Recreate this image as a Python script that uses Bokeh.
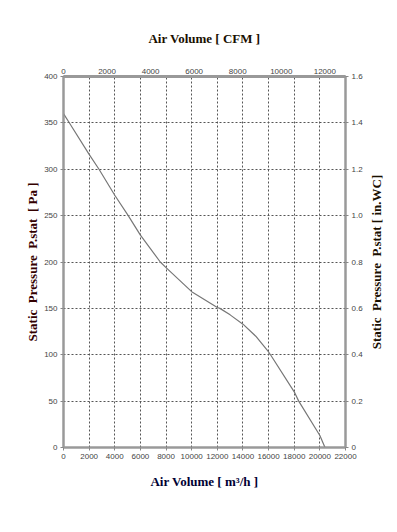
import math
from bokeh.plotting import figure
from bokeh.layouts import row
from bokeh.models import Range1d, LinearAxis, FixedTicker
from bokeh.embed import file_html
from bokeh.resources import INLINE

# Curve: air volume (m3/h) vs static pressure (Pa)
flow_m3h = [0, 500, 2000, 2770, 4000, 5050, 6000, 7550, 8000, 10000, 12000,
            12200, 13000, 14000, 15000, 16000, 16150, 18000, 18350, 20000, 20400]
pressure_pa = [360, 349, 316, 300, 272, 250, 229, 200, 194, 168, 151,
               150, 143, 133, 120, 103, 100, 60, 50, 13, 0]

bottom_ticks = [0, 2000, 4000, 6000, 8000, 10000, 12000, 14000, 16000, 18000, 20000, 22000]
left_ticks = [0, 50, 100, 150, 200, 250, 300, 350, 400]
top_ticks = [0, 2000, 4000, 6000, 8000, 10000, 12000]
right_ticks = [0, 0.2, 0.4, 0.6, 0.8, 1.0, 1.2, 1.4, 1.6]
right_labels = ["0", "0.2", "0.4", "0.6", "0.8", "1.0", "1.2", "1.4", "1.6"]

NB = "\u00a0"
right_title_text = [f"Static{NB} Pressure{NB} P.stat [ in.WC]"]
M3H_PER_CFM = 1.699
X_MAX = 22000
Y_MAX = 400

main = figure(width=367, height=532, output_backend="svg", toolbar_location=None,
              x_range=Range1d(0, X_MAX), y_range=Range1d(0, Y_MAX),
              min_border_left=63, min_border_right=22, min_border_top=76, min_border_bottom=85,
              x_axis_location=None, y_axis_location=None)
main.background_fill_color = "white"
main.border_fill_color = "white"
main.outline_line_color = "#999999"
main.outline_line_width = 2

main.extra_x_ranges = {"cfm": Range1d(0, X_MAX / M3H_PER_CFM)}
main.extra_y_ranges = {"inwc": Range1d(0, 1.6)}

tick_font = "Liberation Sans"
title_font = "Liberation Serif"


def style(ax, ticks):
    ax.ticker = FixedTicker(ticks=ticks)
    ax.major_label_text_font = tick_font
    ax.major_label_text_font_size = "8px"
    ax.major_label_text_color = "#444444"
    ax.axis_line_color = "#999999"
    ax.axis_line_width = 2
    ax.major_tick_line_color = "#888888"
    ax.major_tick_in = 0
    ax.major_tick_out = 3
    ax.minor_tick_line_color = None
    ax.axis_label_text_font = title_font
    ax.axis_label_text_font_style = "bold"
    ax.axis_label_text_font_size = "13px"
    ax.axis_label_text_color = "#111111"
    ax.major_label_standoff = 3


bottom = LinearAxis(axis_label="Air Volume [ m\u00b3/h ]")
style(bottom, bottom_ticks)
bottom.axis_label_standoff = 12
bottom.axis_label_text_color = "#000033"
main.add_layout(bottom, "below")

left = LinearAxis(axis_label=f"Static{NB} Pressure{NB} P.stat{NB} [ Pa ]")
style(left, left_ticks)
left.axis_label_standoff = 1
left.axis_label_text_color = "#330000"
main.add_layout(left, "left")

top = LinearAxis(x_range_name="cfm", axis_label="Air Volume [ CFM ]")
style(top, top_ticks)
top.major_tick_out = 0
top.axis_line_width = 3
top.axis_label_standoff = 20
top.axis_label_text_color = "#1a0f00"
main.add_layout(top, "above")

right = LinearAxis(y_range_name="inwc")
style(right, right_ticks)
right.major_label_overrides = {t: s for t, s in zip(right_ticks, right_labels)}
main.add_layout(right, "right")

main.xgrid.ticker = FixedTicker(ticks=bottom_ticks)
main.ygrid.ticker = FixedTicker(ticks=left_ticks)
for g in (main.xgrid, main.ygrid):
    g.grid_line_color = "#555555"
    g.grid_line_dash = "2 2"
    g.grid_line_width = 1

main.line(flow_m3h, pressure_pa, line_color="#777777", line_width=1.2)

# narrow strip holding the right-hand axis title (reads bottom to top)
side = figure(width=30, height=532, output_backend="svg", toolbar_location=None,
              x_range=Range1d(0, 1), y_range=main.y_range,
              min_border_left=0, min_border_right=0, min_border_top=76, min_border_bottom=85,
              x_axis_location=None, y_axis_location=None)
side.outline_line_color = None
side.grid.visible = False
side.background_fill_color = "white"
side.border_fill_color = "white"
side.text(x=[0.3], y=[Y_MAX / 2], text=right_title_text, angle=math.pi / 2,
          text_align="center", text_baseline="middle",
          text_font={"value": title_font}, text_font_style="bold",
          text_font_size="13px", text_color="#1a0f00")

layout = row(main, side)
open("out.html", "w").write(file_html(layout, INLINE))
